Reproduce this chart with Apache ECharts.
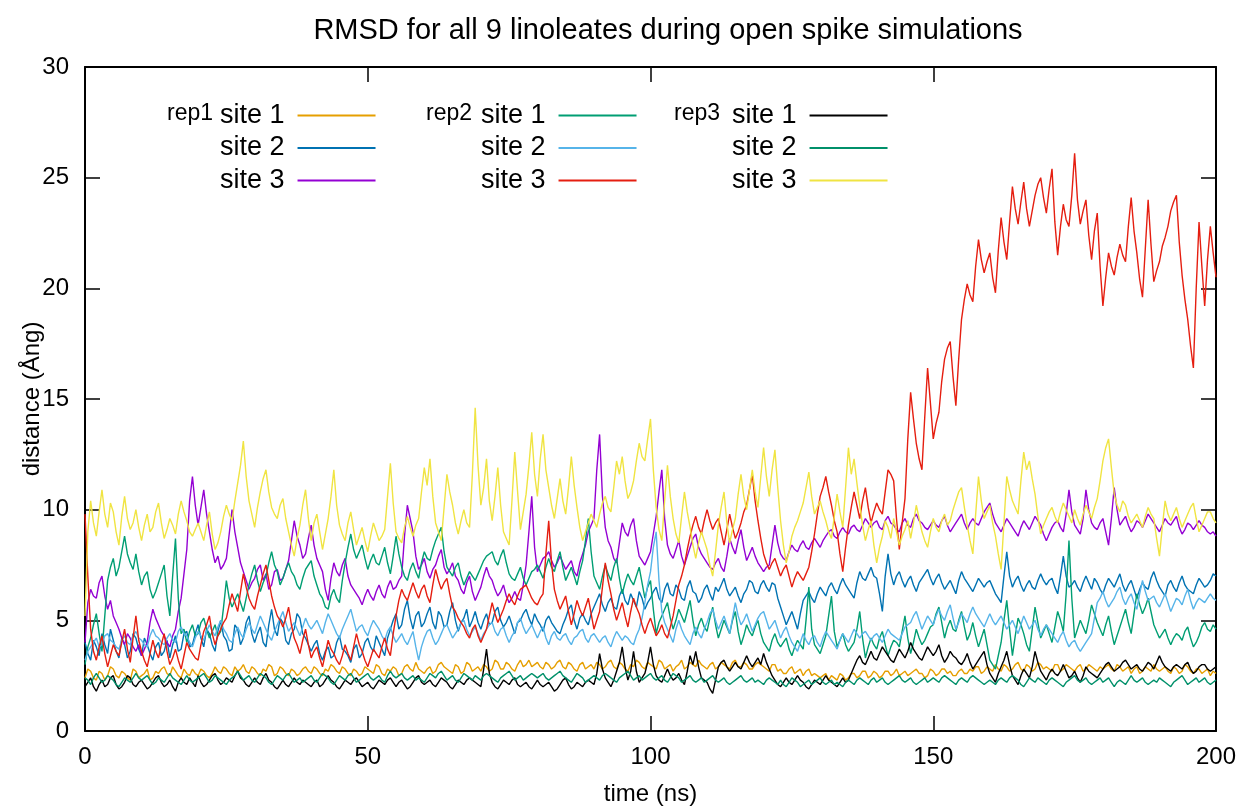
<!DOCTYPE html>
<html>
<head>
<meta charset="utf-8">
<script src="https://cdn.jsdelivr.net/npm/echarts@6/dist/echarts.min.js"></script>
<style>
html,body{margin:0;padding:0;background:#fff;}
#chart{width:1242px;height:811px;}
</style>
</head>
<body>
<div id="chart"></div>
<script>
// samples every 0.5 ns over 0..200 ns
const tStart = 0, tEnd = 200;
const xTicks = [0, 50, 100, 150, 200];
const yTicks = [0, 5, 10, 15, 20, 25, 30];

const seriesNames = ['rep1 site 1','rep1 site 2','rep1 site 3','rep2 site 1','rep2 site 2','rep2 site 3','rep3 site 1','rep3 site 2','rep3 site 3'];
const seriesColors = ['#e69f00','#0072b2','#9400d3','#009e73','#56b4e9','#e51e10','#000000','#00906a','#f0e442'];

const rep1Site1 = [
2.4,2.8,2.7,2.4,2.3,2.7,2.6,2.3,2.5,2.9,2.8,2.5,2.4,2.7,2.6,2.4,2.3,2.8,2.7,2.4,
2.5,2.6,2.8,2.3,2.4,2.7,2.6,2.8,2.9,2.6,2.5,2.9,2.7,2.5,2.4,2.8,2.6,2.5,2.8,2.6,
2.5,2.8,2.7,2.5,2.4,2.6,2.9,2.7,2.6,2.9,2.8,2.6,2.5,2.9,2.7,2.8,3.0,2.7,2.6,2.9,
2.8,2.6,2.5,2.8,2.7,3.0,2.9,2.5,2.6,2.9,2.8,2.6,2.5,2.8,2.7,2.5,2.6,2.8,2.9,2.7,
2.6,2.9,2.8,2.6,2.5,2.8,2.7,3.0,2.9,2.7,2.6,2.9,2.8,2.6,2.5,2.8,2.7,2.5,2.6,2.9,
2.8,2.7,2.6,3.0,2.9,2.6,2.5,2.8,2.7,2.9,2.8,2.5,2.6,2.9,3.0,2.8,2.7,3.1,2.8,2.7,
2.6,2.8,2.9,2.6,2.7,3.0,3.1,2.9,2.8,2.7,2.6,3.0,2.9,2.6,2.7,3.1,3.0,2.7,2.8,2.9,
2.7,3.0,2.9,2.7,2.8,3.2,3.1,2.8,2.8,3.1,3.0,2.8,2.7,3.0,3.2,2.9,3.0,3.2,2.9,3.0,
3.1,2.9,2.8,3.1,3.0,2.8,2.9,3.1,3.2,2.9,2.8,3.1,3.0,2.8,2.7,3.0,3.1,2.8,2.9,3.0,
2.8,3.1,3.0,2.8,2.9,3.1,3.2,2.9,2.8,3.1,3.0,2.8,2.7,3.0,2.9,3.2,3.1,2.9,2.8,3.1,
3.0,2.9,2.8,3.2,3.1,2.8,2.9,3.0,2.7,2.9,3.0,3.2,2.8,2.9,3.1,3.0,2.9,3.2,3.0,2.9,
2.8,3.0,3.1,2.8,2.9,3.1,3.0,2.9,2.8,3.1,3.2,2.9,2.9,3.1,3.0,2.8,2.8,3.0,3.1,3.0,
2.9,2.8,2.7,3.0,3.0,2.7,2.8,2.6,2.6,2.8,2.9,2.6,2.7,2.8,2.5,2.7,2.8,2.5,2.6,2.5,
2.4,2.5,2.6,2.3,2.5,2.4,2.3,2.6,2.5,2.3,2.4,2.6,2.6,2.4,2.5,2.7,2.7,2.4,2.5,2.7,
2.6,2.4,2.5,2.7,2.7,2.5,2.6,2.8,2.5,2.6,2.7,2.5,2.6,2.7,2.8,2.6,2.6,2.4,2.5,2.8,
2.7,2.5,2.6,2.8,2.8,2.6,2.7,2.5,2.5,2.7,2.8,2.6,2.6,2.8,2.7,2.9,2.9,2.6,2.7,2.9,
2.8,2.7,3.0,2.8,2.7,3.0,2.9,2.7,2.8,3.0,3.1,2.8,2.7,3.0,2.9,2.7,2.8,3.1,3.0,2.8,
2.9,2.8,2.7,3.0,3.0,2.7,2.8,3.0,2.9,2.8,2.7,2.9,3.0,2.7,2.8,3.0,2.9,2.8,2.7,2.9,
2.8,2.9,3.0,2.8,2.7,3.0,2.9,2.7,2.8,2.9,2.6,2.8,2.9,2.6,2.7,2.9,2.8,2.7,3.0,2.8,
2.7,2.8,2.9,2.7,2.6,2.9,2.8,2.6,2.7,3.0,2.9,2.7,2.6,2.8,2.8,2.6,2.7,2.8,2.5,2.7,
2.6];

const rep1Site2 = [
4.0,3.5,3.2,4.1,3.8,3.4,4.4,3.9,3.5,4.6,4.1,3.6,3.3,4.2,3.9,3.3,3.6,4.4,4.2,3.7,
3.4,4.2,3.9,3.5,3.2,3.8,4.0,3.4,3.6,4.1,3.3,3.9,4.3,3.6,3.7,4.4,4.5,3.8,3.9,4.4,
4.8,4.2,3.8,4.6,4.4,3.9,3.6,4.5,5.0,4.3,4.1,3.6,3.7,4.8,4.6,3.9,4.2,4.9,5.2,4.4,
4.0,4.4,4.7,4.0,3.8,4.8,5.5,4.6,4.3,5.1,4.9,4.1,3.9,4.4,4.6,5.3,5.1,4.4,4.2,3.9,
3.6,3.9,4.1,3.5,3.2,3.6,3.8,3.3,3.4,4.0,4.3,3.7,3.6,3.4,3.1,3.7,3.9,3.3,3.5,4.0,
4.2,3.8,3.6,4.3,4.0,3.7,3.4,4.2,4.6,5.0,5.3,4.6,4.8,5.5,5.9,5.1,4.6,5.2,5.4,4.7,
4.9,5.3,5.6,4.9,4.6,5.4,5.2,4.7,4.8,5.4,5.8,5.0,4.5,4.9,5.1,5.5,4.7,5.0,5.4,4.9,
4.6,5.0,5.3,4.8,4.9,5.4,5.6,5.0,4.7,4.9,5.2,4.8,4.4,4.9,5.0,5.3,5.5,5.1,4.8,5.3,
5.0,4.8,4.5,5.0,5.2,4.9,4.7,4.5,4.4,4.8,5.1,5.5,5.7,5.0,4.6,5.1,5.3,5.0,4.8,5.3,
5.6,5.9,6.2,5.7,5.4,5.8,6.0,5.6,5.5,6.1,6.4,5.9,5.7,6.2,5.9,5.6,6.3,6.0,5.5,5.8,
6.0,6.3,6.5,6.0,5.8,6.4,6.7,6.2,6.1,6.6,6.4,6.0,5.9,6.5,6.8,6.3,6.2,5.8,6.0,6.4,
6.6,6.2,5.9,6.5,6.3,6.6,6.9,6.4,6.1,6.3,6.5,6.1,5.8,6.2,6.4,6.8,6.7,6.3,6.2,6.6,
6.8,6.5,6.3,6.7,6.6,6.0,5.6,5.2,4.8,5.1,5.4,5.0,4.6,5.3,5.9,6.1,6.3,6.0,5.8,6.2,
6.5,6.3,6.1,6.5,6.7,6.4,6.2,6.6,6.9,6.6,6.4,6.2,6.0,6.7,7.2,6.9,6.8,7.1,7.4,7.0,
6.9,6.2,5.4,7.0,8.0,7.1,6.6,7.0,7.2,6.8,6.5,6.8,7.0,6.6,6.3,6.7,6.9,7.1,7.3,6.9,
6.6,6.9,7.1,6.7,6.4,6.6,6.8,6.5,6.2,6.8,7.2,6.9,6.7,6.5,6.3,6.6,6.9,6.7,6.5,6.7,
6.8,6.5,6.2,6.0,5.8,7.0,8.1,7.0,6.5,6.8,7.0,6.6,6.3,6.6,6.8,6.5,6.4,6.8,7.1,6.8,
6.6,6.8,6.9,6.5,6.2,7.0,7.9,7.0,6.5,6.6,6.8,6.5,6.3,6.7,7.0,6.7,6.4,6.9,6.7,6.4,
6.2,6.6,6.9,6.7,6.5,6.8,7.1,6.6,6.3,6.6,6.8,6.4,6.0,6.4,6.7,6.5,6.4,6.9,7.2,6.8,
6.5,6.3,6.1,6.6,6.8,6.5,6.3,6.7,7.0,6.6,6.4,6.3,6.2,6.6,6.9,6.7,6.5,6.6,6.8,7.1,
7.0];

const rep1Site3 = [
4.0,5.8,6.4,6.1,6.0,6.7,7.0,6.1,5.5,5.9,5.2,4.9,4.6,4.2,3.9,4.4,4.2,3.8,3.6,3.9,
3.4,3.7,4.0,4.9,5.5,5.1,4.8,4.5,4.3,4.0,3.8,4.3,4.6,5.4,6.0,7.1,8.2,10.4,11.5,10.2,
9.3,10.1,10.9,9.8,9.0,8.2,7.6,7.9,7.3,7.5,7.8,8.9,10.0,9.0,8.3,7.6,7.2,6.8,6.4,6.7,
6.9,7.3,7.5,6.8,7.1,6.4,6.6,7.2,7.3,6.8,6.9,7.3,7.7,8.6,9.5,8.8,8.4,7.8,8.0,8.7,
9.3,8.4,7.8,7.5,7.2,6.4,5.9,6.9,7.6,7.2,7.0,7.5,7.8,7.0,6.6,6.4,6.2,6.0,5.7,6.1,
6.4,6.1,5.9,6.3,6.6,6.2,6.0,6.5,6.8,6.4,6.5,6.8,7.0,8.8,10.2,9.6,9.0,7.9,7.3,7.5,
7.8,7.2,6.9,7.3,7.5,7.9,8.2,7.4,7.1,7.3,7.6,7.0,6.8,6.4,6.2,6.7,7.0,6.3,5.9,6.2,
6.5,7.0,7.4,7.0,6.8,6.4,6.1,6.3,6.6,6.1,5.8,6.0,6.3,6.0,5.9,6.6,7.5,9.0,10.6,8.3,
7.2,7.5,7.8,7.9,8.1,7.7,7.4,7.6,7.9,7.6,7.3,7.5,7.7,7.2,7.0,7.6,8.0,8.4,9.0,9.3,
9.6,11.8,13.4,10.6,9.2,8.6,8.3,7.8,7.6,8.5,9.4,9.0,8.8,9.3,9.6,8.6,7.9,7.7,7.5,7.8,
8.1,8.9,9.7,10.8,11.8,9.6,8.4,8.0,7.8,8.2,8.6,7.9,7.5,7.9,8.3,8.7,8.9,8.3,8.0,7.8,
7.6,7.4,7.3,7.6,7.8,7.4,7.2,7.9,8.7,8.3,8.0,8.6,9.1,8.3,7.7,8.0,8.3,7.9,7.6,7.4,
7.2,7.4,7.5,8.4,9.3,8.5,8.0,7.8,7.7,8.1,8.4,8.2,8.1,8.4,8.6,8.3,8.2,8.5,8.7,8.5,
8.3,8.6,8.8,9.0,9.1,8.8,8.7,9.0,9.2,9.0,8.9,9.2,9.3,9.1,9.0,9.3,9.6,9.4,9.2,9.4,
9.5,9.2,9.1,9.5,9.7,9.4,9.3,9.1,9.0,9.4,9.6,9.3,9.2,9.6,9.8,9.5,9.4,9.2,9.1,9.3,
9.5,9.3,9.2,9.5,9.7,9.3,9.0,9.2,9.4,9.6,9.8,9.4,9.1,9.4,9.6,9.4,9.3,9.6,9.9,10.1,
10.3,9.8,9.4,9.2,9.0,9.3,9.6,9.4,9.2,9.0,8.8,9.2,9.5,9.3,9.1,9.4,9.7,9.5,9.3,8.9,
8.6,8.9,9.2,9.4,9.5,9.2,9.0,9.8,10.9,9.9,9.3,9.1,8.9,9.6,10.9,10.0,9.4,9.2,9.1,9.4,
9.6,9.0,8.4,9.6,11.0,10.0,9.3,9.5,9.7,9.3,9.0,9.2,9.5,9.4,9.2,9.5,9.8,9.6,9.4,9.2,
9.0,9.3,9.6,9.4,9.3,9.5,9.7,9.2,8.9,9.1,9.4,9.3,9.1,9.3,9.5,9.3,9.2,9.0,8.9,9.0,
8.8];

const rep2Site1 = [
3.0,3.8,4.2,4.8,5.3,4.4,3.6,5.2,6.8,7.4,7.8,7.0,7.4,8.1,8.8,8.0,7.6,7.3,8.0,7.2,
6.6,7.0,7.2,6.4,6.0,6.3,6.7,7.1,7.5,6.1,5.2,7.0,8.7,6.0,4.4,4.6,4.0,4.5,4.8,4.3,
4.4,4.9,5.1,4.6,4.2,4.5,4.8,4.3,4.5,5.6,6.8,6.0,5.6,5.9,6.2,5.8,5.4,6.0,6.6,7.1,
7.5,6.8,6.3,6.7,7.0,7.6,8.1,7.5,7.2,6.6,6.9,7.3,7.6,7.2,7.0,6.6,6.4,6.9,7.3,7.5,
7.7,7.0,6.6,6.2,6.0,5.6,5.5,6.1,6.4,6.0,5.8,6.8,7.6,8.3,8.9,8.2,7.8,8.1,8.4,7.8,
7.3,7.7,8.0,7.6,7.5,7.9,8.3,7.6,7.1,7.9,8.8,8.0,7.4,7.0,6.8,7.3,7.6,7.2,6.9,7.6,
8.1,7.8,7.7,8.2,8.6,8.9,9.2,8.1,7.4,7.2,7.0,7.4,7.6,7.0,6.6,6.9,7.2,7.0,6.8,7.1,
7.4,7.7,7.9,8.0,8.1,7.7,7.5,7.9,8.2,7.6,7.1,6.9,6.8,7.1,7.4,6.9,6.6,6.9,7.2,7.3,
7.5,7.2,6.9,7.4,7.8,7.4,7.2,7.7,8.1,7.4,6.8,7.1,7.4,7.0,6.6,7.2,7.7,8.6,9.6,8.1,
7.0,6.7,6.4,7.0,7.5,7.1,6.8,7.4,7.8,6.9,6.2,6.7,7.1,6.8,6.6,7.0,7.4,6.7,6.0,6.5,
6.8,5.5,4.4,4.9,5.2,5.5,5.8,5.1,4.6,5.0,5.5,5.2,4.9,5.4,5.9,5.0,4.3,4.8,5.1,4.7,
4.5,5.1,5.6,4.8,4.2,4.6,5.0,4.7,4.4,5.0,5.4,4.5,3.9,4.3,4.8,4.5,4.3,4.7,5.0,4.4,
4.0,3.8,3.6,4.1,4.4,4.0,3.8,4.0,4.2,3.7,3.4,3.8,4.1,3.9,3.7,5.0,6.5,4.6,3.9,3.7,
3.5,3.9,4.3,5.2,6.1,4.5,3.8,4.1,4.4,3.9,3.6,3.8,4.0,4.6,5.4,4.2,3.3,3.8,4.2,3.9,
3.7,4.2,4.5,3.9,3.4,3.8,4.1,4.0,3.8,4.5,5.2,4.2,3.5,4.0,4.6,4.2,3.9,4.1,4.4,4.7,
4.8,5.3,5.6,4.9,4.2,4.7,5.0,4.6,4.5,5.0,5.4,4.7,4.1,4.4,4.9,4.3,3.8,4.2,4.6,3.9,
3.2,3.0,2.8,3.4,4.0,5.0,5.9,4.6,3.4,4.3,5.1,4.8,4.4,3.9,3.6,4.6,5.6,4.9,4.2,4.5,
4.8,4.4,4.0,4.7,5.4,5.0,4.5,6.2,8.6,6.0,4.2,4.6,5.0,4.7,4.4,5.0,5.7,5.3,4.9,4.6,
4.3,4.8,5.2,4.5,3.9,4.3,4.7,5.1,5.5,4.9,4.4,5.3,6.2,5.7,5.3,5.6,6.0,5.4,4.8,4.5,
4.2,4.4,4.6,4.2,3.9,4.2,4.4,4.3,4.1,4.5,4.7,4.2,3.8,4.0,4.3,4.7,4.9,4.6,4.5,4.8,
4.6];

const rep2Site2 = [
3.2,3.6,3.8,4.0,4.2,3.8,3.9,4.3,4.4,4.1,4.0,3.8,3.7,4.1,4.3,4.0,3.9,4.3,4.5,4.2,
4.1,3.9,3.8,4.3,4.6,4.3,4.2,4.0,3.9,4.2,4.4,4.1,4.0,4.5,4.7,4.4,4.3,4.0,3.8,4.2,
4.5,4.3,4.1,4.5,4.8,4.5,4.3,4.7,5.0,4.6,4.4,4.1,4.0,4.4,4.7,4.4,4.2,4.6,4.9,4.6,
4.4,4.8,5.2,4.9,4.6,4.3,4.1,4.5,4.8,5.1,5.4,4.9,4.5,4.7,4.9,4.6,4.3,4.7,5.1,4.8,
4.6,4.8,5.0,4.7,4.4,4.9,5.3,5.0,4.7,4.4,4.2,4.6,4.9,5.2,5.5,5.0,4.5,4.7,4.8,4.5,
4.3,4.7,5.0,4.8,4.6,4.3,4.1,4.5,4.7,4.3,4.0,4.2,4.4,4.1,3.9,4.2,4.5,3.8,3.2,3.8,
4.2,4.5,4.6,4.2,3.9,4.1,4.4,4.7,4.8,4.5,4.2,4.4,4.6,4.9,5.0,4.6,4.3,4.5,4.7,4.4,
4.1,4.4,4.6,4.8,4.9,4.5,4.3,4.6,4.7,4.3,4.0,4.3,4.5,4.9,5.1,4.7,4.4,4.6,4.8,4.5,
4.2,4.5,4.7,4.2,3.9,4.3,4.5,4.2,4.1,4.3,4.4,4.1,3.9,4.2,4.3,4.5,4.6,4.2,4.0,4.3,
4.4,4.2,4.0,4.2,4.3,4.0,3.8,4.2,4.5,4.3,4.1,4.3,4.2,4.0,3.9,4.3,4.6,5.1,5.8,6.6,
7.2,8.3,9.0,6.8,5.4,4.9,4.6,4.3,4.0,4.6,5.0,4.6,4.3,4.1,3.9,4.4,4.7,4.4,4.2,4.6,
4.9,5.3,5.5,5.0,4.6,4.9,5.2,4.8,4.4,5.1,5.8,5.2,4.8,5.0,5.3,4.9,4.5,4.8,5.1,5.3,
5.4,5.0,4.6,4.8,5.0,4.6,4.2,4.5,4.7,4.3,4.0,3.8,3.6,4.0,4.4,4.1,3.9,4.2,4.3,4.0,
3.8,4.2,4.5,4.3,4.1,3.9,3.7,4.1,4.4,4.2,4.0,4.3,4.6,4.4,4.2,4.4,4.5,4.3,4.1,4.3,
4.4,4.2,4.0,4.3,4.6,4.4,4.3,4.2,4.1,4.4,4.7,4.8,4.9,5.2,5.4,5.0,4.6,4.9,5.2,5.0,
4.8,5.2,5.5,5.2,5.0,5.4,5.7,5.1,4.6,4.9,5.3,5.1,4.9,5.3,5.6,5.3,5.1,4.9,4.7,5.0,
5.3,5.0,4.8,5.0,5.2,4.9,4.6,4.8,5.0,4.7,4.4,4.8,5.2,4.9,4.6,4.8,5.0,4.6,4.3,4.6,
4.8,4.6,4.4,4.2,4.0,4.3,4.5,4.1,3.8,4.0,4.1,3.8,3.6,3.8,4.0,4.2,4.4,5.1,5.8,6.0,
6.3,5.9,5.6,5.8,6.0,6.3,6.5,6.0,5.7,6.0,6.2,5.8,5.5,6.2,6.8,6.3,5.9,6.0,6.1,5.8,
5.6,5.9,6.2,5.8,5.4,5.7,6.0,5.9,5.7,6.1,6.4,5.9,5.5,5.8,6.0,5.9,5.8,6.0,6.2,6.0,
5.9];

const rep2Site3 = [
9.8,7.0,4.6,3.6,3.2,3.8,4.3,3.5,2.9,3.4,3.9,3.6,3.4,4.0,4.6,3.7,3.1,4.2,5.2,4.1,
3.6,3.2,2.9,3.5,4.1,3.6,3.3,3.9,4.4,3.6,3.0,3.3,3.7,3.2,2.8,3.4,4.0,3.7,3.5,3.3,
3.2,3.9,4.5,4.8,5.2,4.4,3.9,4.3,4.6,4.9,5.1,5.7,6.2,5.8,5.4,6.3,7.1,6.5,6.0,5.7,
5.5,6.1,6.6,7.1,7.5,6.8,6.1,5.6,5.2,5.0,4.7,5.1,5.6,4.8,4.2,3.9,3.5,4.1,4.6,3.9,
3.3,3.6,3.8,3.3,2.9,3.5,4.1,3.7,3.5,3.2,3.0,3.4,3.9,3.5,3.2,3.8,4.4,3.9,3.6,3.2,
2.9,3.3,3.7,3.5,3.3,3.8,4.2,3.7,3.4,4.4,5.2,5.9,6.4,6.1,5.9,6.3,6.7,6.3,6.0,6.4,
6.6,6.1,5.8,6.6,7.3,6.8,6.4,6.7,6.9,6.2,5.6,5.4,5.1,4.9,4.7,4.4,4.2,4.6,4.8,4.3,
4.0,4.3,4.6,5.2,5.8,5.3,4.9,5.2,5.5,5.9,6.2,5.9,5.7,6.1,6.4,6.5,6.6,6.3,6.0,5.8,
5.7,6.0,6.2,8.0,9.5,7.6,6.4,5.9,5.5,5.8,6.1,5.4,4.8,5.3,5.9,5.5,5.2,5.6,6.0,5.3,
4.6,5.0,5.4,6.5,7.6,6.8,6.2,5.5,5.0,5.4,5.8,5.2,4.7,5.4,6.0,5.6,5.3,4.8,4.4,4.8,
5.1,4.7,4.3,4.5,4.8,4.4,4.2,4.7,5.2,5.9,6.6,7.0,7.5,8.2,8.8,9.3,9.7,9.2,8.9,9.5,
10.0,9.5,9.1,9.4,9.6,9.0,8.4,9.1,9.8,9.2,8.7,9.0,9.4,9.9,10.2,10.9,11.6,10.4,9.5,8.7,
8.0,7.6,7.3,7.6,7.8,7.4,7.0,7.3,7.5,7.0,6.5,6.9,7.2,7.0,6.8,7.1,7.4,8.1,8.9,9.8,
10.6,11.0,11.5,10.8,10.2,9.5,9.0,8.0,7.2,8.3,9.3,10.1,10.8,10.2,9.6,10.4,11.0,10.1,9.4,9.9,
10.3,10.0,9.8,10.8,11.8,11.6,11.3,9.6,8.2,9.4,10.5,13.2,15.3,14.1,13.0,12.3,11.8,14.2,16.4,14.8,
13.2,13.9,14.4,15.8,16.8,17.3,17.6,16.0,14.7,16.8,18.6,19.5,20.2,19.7,19.4,21.0,22.2,21.3,20.7,21.2,
21.6,20.5,19.8,21.7,23.2,22.1,21.3,23.0,24.6,23.6,22.9,23.9,24.8,23.6,22.8,23.5,24.2,24.7,25.0,24.1,
23.4,24.5,25.4,23.0,21.5,22.8,23.8,23.1,22.8,24.2,26.1,24.0,22.9,23.5,24.0,22.4,21.3,22.6,23.4,21.0,
19.2,20.5,21.6,21.0,20.6,21.4,22.0,21.5,21.2,22.8,24.1,22.6,21.6,20.4,19.6,21.8,24.0,22.0,20.3,20.8,
21.2,21.9,22.3,22.8,23.5,23.9,24.2,22.1,20.6,19.5,18.6,17.4,16.4,20.0,23.0,21.0,19.2,21.3,22.8,21.6,
20.5];

const rep3Site1 = [
2.0,2.2,2.4,2.0,1.8,2.1,2.3,2.0,2.1,2.4,2.5,2.1,1.9,2.0,2.2,2.5,2.4,2.1,2.0,2.2,
2.3,2.1,1.9,2.0,2.2,2.4,2.5,2.2,2.0,2.1,2.3,2.0,1.8,2.2,2.4,2.2,2.1,2.4,2.2,2.0,
2.5,2.2,2.0,2.1,2.3,2.5,2.6,2.3,2.1,2.2,2.4,2.3,2.2,2.5,2.7,2.4,2.3,2.1,2.0,2.2,
2.4,2.2,2.1,2.4,2.6,2.3,2.2,2.0,1.9,2.1,2.3,2.1,2.0,2.2,2.4,2.2,2.1,2.3,2.2,2.1,
2.0,2.2,2.3,2.0,2.1,2.3,2.5,2.3,2.2,2.0,1.9,2.1,2.3,2.2,2.1,2.3,2.4,2.2,2.0,2.1,
2.2,2.0,1.9,2.1,2.3,2.2,2.1,2.3,2.4,2.2,2.0,2.2,2.3,2.1,1.9,2.0,2.2,2.4,2.5,2.2,
2.1,2.2,2.3,2.1,2.0,2.2,2.4,2.3,2.2,2.0,1.9,2.1,2.3,2.2,2.1,2.3,2.4,2.3,2.2,2.1,
2.0,2.8,3.7,2.6,2.2,2.0,1.9,2.1,2.3,2.2,2.1,2.3,2.4,2.1,2.0,2.1,2.2,2.0,1.9,2.1,
2.3,2.1,2.0,2.1,2.2,2.0,1.8,1.9,2.1,2.3,2.4,2.1,1.9,2.0,2.2,2.1,2.0,2.2,2.3,2.2,
2.1,2.6,3.5,2.8,2.4,2.2,2.0,2.3,2.7,3.1,3.8,2.9,2.3,2.7,3.6,2.7,2.2,2.4,2.6,3.1,
3.8,3.0,2.5,2.3,2.2,2.5,2.8,2.5,2.3,2.4,2.6,2.3,2.1,2.7,3.4,3.0,3.6,2.9,2.4,2.3,
2.2,1.9,1.7,2.3,2.9,3.1,3.2,2.9,2.7,2.9,3.1,2.9,2.8,3.1,3.4,3.1,2.9,3.1,3.3,3.0,
3.5,3.1,2.8,2.5,2.3,2.1,2.0,2.2,2.4,2.2,2.1,2.3,2.5,2.3,2.2,2.0,1.9,2.1,2.3,2.2,
2.1,2.3,2.5,2.3,2.2,2.1,2.0,2.2,2.4,2.2,2.3,2.6,2.9,3.2,3.4,3.1,3.0,3.3,3.6,3.3,
3.2,3.5,3.8,3.6,3.4,3.2,3.1,3.4,3.7,3.5,3.3,3.6,4.0,3.7,3.5,3.3,3.2,3.5,3.8,3.6,
3.4,3.6,3.9,3.4,3.1,3.3,3.6,3.4,3.3,3.1,3.0,3.2,3.5,3.1,2.8,3.0,3.2,3.4,3.6,3.0,
2.6,2.4,2.2,2.6,2.9,3.2,3.6,3.0,2.5,2.3,2.1,2.5,2.8,2.6,2.4,2.9,3.6,3.1,2.7,2.5,
2.3,2.6,2.8,2.6,2.5,2.7,3.0,2.7,2.4,2.5,2.7,2.4,2.2,2.5,2.9,2.7,2.6,2.5,2.4,2.6,
2.8,3.0,3.1,2.9,2.7,2.8,2.9,3.1,3.2,3.0,2.8,2.9,3.0,2.8,2.7,2.9,3.1,3.0,2.8,3.1,
3.4,3.1,2.9,2.8,2.7,2.9,3.0,2.9,2.8,3.0,3.1,2.8,2.6,2.7,2.9,3.0,3.0,2.8,2.7,2.8,
2.9];

const rep3Site2 = [
2.4,2.3,2.1,2.4,2.6,2.4,2.2,2.3,2.5,2.4,2.3,2.1,2.0,2.2,2.4,2.3,2.2,2.4,2.6,2.4,
2.3,2.4,2.5,2.3,2.1,2.2,2.4,2.3,2.2,2.4,2.6,2.4,2.3,2.2,2.1,2.3,2.5,2.3,2.2,2.3,
2.4,2.5,2.6,2.4,2.2,2.3,2.5,2.4,2.3,2.2,2.1,2.3,2.4,2.5,2.7,2.5,2.3,2.4,2.5,2.3,
2.2,2.4,2.6,2.5,2.4,2.2,2.1,2.3,2.5,2.4,2.3,2.5,2.6,2.4,2.2,2.3,2.4,2.2,2.3,2.4,
2.5,2.3,2.2,2.4,2.6,2.5,2.4,2.2,2.1,2.3,2.5,2.4,2.3,2.5,2.6,2.4,2.2,2.3,2.4,2.5,
2.6,2.4,2.3,2.4,2.5,2.3,2.2,2.5,2.7,2.5,2.4,2.5,2.6,2.4,2.3,2.4,2.5,2.3,2.4,2.3,
2.2,2.4,2.6,2.5,2.4,2.6,2.7,2.5,2.3,2.4,2.5,2.3,2.2,2.4,2.6,2.5,2.4,2.3,2.5,2.4,
2.3,2.5,2.6,2.5,2.4,2.3,2.2,2.4,2.5,2.6,2.7,2.5,2.3,2.4,2.5,2.3,2.4,2.5,2.6,2.5,
2.4,2.5,2.6,2.4,2.3,2.4,2.5,2.6,2.7,2.5,2.4,2.3,2.2,2.4,2.6,2.5,2.4,2.2,2.3,2.4,
2.5,2.4,2.3,2.5,2.6,2.5,2.4,2.3,2.2,2.4,2.5,2.6,2.7,2.5,2.3,2.4,2.5,2.3,2.4,2.5,
2.6,2.4,2.3,2.4,2.5,2.3,2.2,2.4,2.6,2.5,2.4,2.2,2.3,2.4,2.5,2.3,2.2,2.3,2.4,2.2,
2.3,2.4,2.5,2.3,2.2,2.3,2.4,2.2,2.1,2.2,2.3,2.4,2.5,2.3,2.2,2.3,2.4,2.2,2.3,2.2,
2.1,2.3,2.4,2.3,2.2,2.1,2.3,2.1,2.0,2.2,2.4,2.3,2.2,2.0,2.1,2.2,2.3,2.1,2.2,2.3,
2.4,2.2,2.1,2.2,2.3,2.1,2.2,2.1,2.0,2.2,2.3,2.2,2.1,2.3,2.4,2.3,2.2,2.1,2.3,2.4,
2.2,2.3,2.4,2.2,2.1,2.2,2.3,2.4,2.5,2.3,2.2,2.3,2.4,2.2,2.1,2.2,2.3,2.4,2.2,2.3,
2.4,2.3,2.2,2.4,2.5,2.4,2.3,2.2,2.1,2.3,2.4,2.3,2.2,2.4,2.5,2.4,2.3,2.2,2.1,2.2,
2.3,2.2,2.1,2.3,2.4,2.3,2.2,2.4,2.5,2.4,2.3,2.1,2.0,2.2,2.4,2.3,2.2,2.4,2.3,2.2,
2.1,2.3,2.4,2.3,2.2,2.1,2.0,2.2,2.3,2.4,2.5,2.3,2.2,2.3,2.4,2.2,2.1,2.2,2.3,2.4,
2.2,2.3,2.4,2.2,2.0,2.2,2.3,2.2,2.1,2.3,2.5,2.3,2.2,2.3,2.4,2.2,2.1,2.2,2.3,2.2,
2.4,2.3,2.2,2.1,2.0,2.2,2.3,2.4,2.5,2.3,2.1,2.2,2.3,2.4,2.2,2.3,2.4,2.2,2.1,2.2,
2.3];

const rep3Site3 = [
5.2,9.0,10.4,9.4,8.8,9.9,10.9,9.8,9.2,10.3,9.9,9.0,8.4,9.7,10.6,9.6,9.1,9.4,10.0,9.2,
8.6,9.3,9.8,9.0,9.2,9.9,10.3,9.4,8.7,9.1,9.6,9.3,8.9,9.8,10.4,9.9,9.5,9.0,8.8,9.1,
9.4,9.0,8.6,9.3,9.9,8.9,8.2,8.5,9.0,9.7,10.2,9.8,9.5,10.4,11.2,12.0,13.1,11.5,10.4,9.8,
9.2,10.1,10.8,11.4,11.8,10.8,10.1,9.8,9.6,10.2,10.5,9.6,9.0,8.4,7.9,8.7,9.3,10.2,10.9,9.6,
8.6,9.4,9.8,9.0,8.2,8.9,9.6,10.6,11.8,10.2,9.3,8.9,8.6,9.4,9.9,9.1,8.4,8.8,9.2,8.6,
8.1,8.8,9.4,9.0,8.6,8.8,9.1,10.6,12.1,10.3,9.0,8.7,8.5,9.2,9.7,9.2,8.8,9.3,9.6,10.8,
11.9,11.1,12.3,10.6,9.4,9.0,8.6,10.1,11.6,10.8,10.2,9.4,8.9,9.5,10.0,9.4,9.2,11.6,14.6,12.0,
10.2,11.0,12.3,10.4,9.5,10.6,11.9,10.2,9.0,8.7,8.4,10.4,12.6,10.8,9.1,9.9,10.7,12.0,13.5,11.6,
10.6,12.3,13.4,11.8,11.0,10.2,9.6,10.5,11.4,10.4,9.8,11.0,12.4,11.1,10.1,9.2,8.6,9.0,9.4,9.8,
9.5,9.2,9.8,10.3,10.6,10.1,9.9,11.0,12.2,11.6,12.4,11.3,10.5,10.8,11.3,12.2,13.0,12.4,12.2,13.2,
14.1,11.8,10.1,9.1,8.6,10.4,12.0,10.6,9.6,8.9,8.5,9.7,10.8,9.9,9.2,8.4,7.8,8.5,9.0,8.6,
8.2,7.5,7.0,8.1,9.3,10.1,10.8,9.4,8.5,9.1,9.6,10.7,11.6,10.6,10.0,10.9,11.8,10.8,10.1,11.5,
12.8,11.5,10.6,11.8,12.7,11.0,9.5,8.4,7.6,8.1,8.8,9.2,9.5,9.9,10.3,11.0,11.7,10.6,9.8,10.1,
10.4,9.9,9.5,9.0,8.7,9.7,10.7,9.9,9.2,11.0,12.8,11.6,12.3,11.2,10.2,9.3,8.6,9.1,9.5,8.4,
7.6,8.3,8.8,9.5,9.2,8.7,9.6,9.0,8.4,8.8,9.1,9.5,8.7,9.4,10.2,9.6,9.0,8.6,8.3,9.0,
9.6,9.2,9.0,9.5,9.8,9.3,9.5,10.0,10.4,10.8,11.0,10.1,9.3,8.6,8.0,9.8,11.5,10.4,9.6,9.9,
10.2,9.4,8.8,8.0,7.3,9.4,11.5,10.9,10.4,10.1,9.8,11.3,12.6,11.8,12.2,11.4,10.7,9.7,8.9,9.3,
9.6,9.9,10.1,9.7,9.4,9.9,10.3,10.0,9.7,9.4,10.0,9.6,9.3,9.8,10.2,9.9,9.6,10.1,10.5,11.3,
12.2,12.8,13.2,11.9,10.7,10.2,9.9,10.4,10.2,9.7,9.4,9.6,9.8,9.5,9.2,9.7,10.1,9.8,9.6,8.7,
7.9,9.2,10.4,9.8,9.5,9.8,10.1,9.6,9.2,9.5,9.8,10.1,10.3,9.6,9.0,9.3,9.6,9.9,9.9,9.6,
9.4];

const seriesValues = [rep1Site1, rep1Site2, rep1Site3, rep2Site1, rep2Site2, rep2Site3, rep3Site1, rep3Site2, rep3Site3];
const repLabels = ['rep1', 'rep2', 'rep3'];

const FONT = '"Liberation Sans", Arial, sans-serif';

const chart = echarts.init(document.getElementById('chart'), null, {renderer: 'canvas'});

const series = seriesNames.map((name, k) => {
  const vals = seriesValues[k];
  const step = (tEnd - tStart) / (vals.length - 1);
  return {
    name: name,
    type: 'line',
    showSymbol: false,
    symbol: 'none',
    data: vals.map((v, i) => [tStart + i * step, v]),
    lineStyle: {color: seriesColors[k], width: 1.4},
    itemStyle: {color: seriesColors[k]},
    emphasis: {disabled: true},
    z: 2 + k
  };
});

function legendFor(rep, left) {
  return {
    data: seriesNames.filter(n => n.startsWith(rep)),
    orient: 'vertical',
    left: left,
    top: 97,
    align: 'right',
    icon: 'rect',
    itemWidth: 78,
    itemHeight: 2,
    itemGap: 5.5,
    selectedMode: false,
    formatter: n => n.replace(/^rep\d /, ''),
    textStyle: {fontFamily: FONT, fontSize: 27, color: '#000', padding: [0, 8, 0, 0]}
  };
}

const legendLefts = [215, 476, 727];
const repRight = [213, 472, 720];

const option = {
  animation: false,
  backgroundColor: '#ffffff',
  title: {
    text: 'RMSD for all 9 linoleates during open spike simulations',
    left: 663,
    textAlign: 'center',
    top: 11,
    textStyle: {fontFamily: FONT, fontSize: 29, fontWeight: 'normal', color: '#000'}
  },
  legend: repLabels.map((r, i) => legendFor(r, legendLefts[i])),
  graphic: repLabels.map((r, i) => ({
    type: 'text', x: repRight[i], y: 114,
    style: {text: r, fontFamily: FONT, fontSize: 23, fill: '#000', align: 'right', verticalAlign: 'middle'}
  })),
  grid: {left: 85, right: 26, top: 67, bottom: 76, show: false, containLabel: false},
  xAxis: [{
    type: 'value', min: 0, max: 200, interval: 50, position: 'bottom',
    name: 'time (ns)', nameLocation: 'middle', nameGap: 51, nameMoveOverlap: false,
    nameTextStyle: {fontFamily: FONT, fontSize: 24, color: '#000'},
    axisLine: {show: true, onZero: false, lineStyle: {color: '#000', width: 2}},
    axisTick: {show: true, inside: true, length: 15, lineStyle: {color: '#000', width: 1.5}},
    axisLabel: {fontFamily: FONT, fontSize: 24, color: '#000', margin: 14, formatter: v => xTicks.includes(v) ? String(v) : ''},
    splitLine: {show: false}
  }, {
    type: 'value', min: 0, max: 200, interval: 50, position: 'top',
    axisLine: {show: true, onZero: false, lineStyle: {color: '#000', width: 2}},
    axisTick: {show: true, inside: true, length: 15, lineStyle: {color: '#000', width: 1.5}},
    axisLabel: {show: false},
    splitLine: {show: false}
  }],
  yAxis: [{
    type: 'value', min: 0, max: 30, interval: 5, position: 'left',
    name: 'distance (Ång)', nameLocation: 'middle', nameGap: 41, nameRotate: 90, nameMoveOverlap: false,
    nameTextStyle: {fontFamily: FONT, fontSize: 24, color: '#000'},
    axisLine: {show: true, onZero: false, lineStyle: {color: '#000', width: 2}},
    axisTick: {show: true, inside: true, length: 15, lineStyle: {color: '#000', width: 1.5}},
    axisLabel: {fontFamily: FONT, fontSize: 24, color: '#000', margin: 16, formatter: v => yTicks.includes(v) ? String(v) : ''},
    splitLine: {show: false}
  }, {
    type: 'value', min: 0, max: 30, interval: 5, position: 'right',
    axisLine: {show: true, onZero: false, lineStyle: {color: '#000', width: 2}},
    axisTick: {show: true, inside: true, length: 15, lineStyle: {color: '#000', width: 1.5}},
    axisLabel: {show: false},
    splitLine: {show: false}
  }],
  series: series
};

chart.setOption(option);
</script>
</body>
</html>
